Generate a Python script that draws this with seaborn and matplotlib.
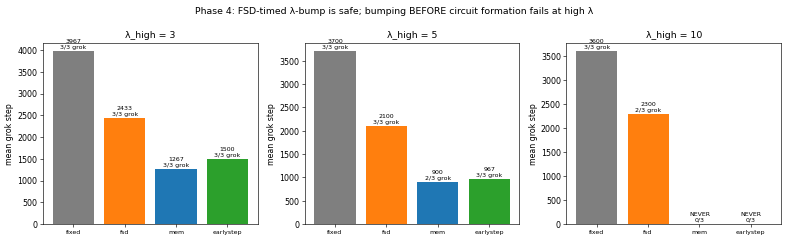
import matplotlib
matplotlib.use("Agg")
import matplotlib.pyplot as plt
import seaborn as sns

methods = ["fixed", "fsd", "mem", "earlystep"]
lam_highs = [3, 5, 10]
# mean grok step per method (None = never grokked)
mean_steps = {
    3: [3967, 2433, 1267, 1500],
    5: [3700, 2100, 900, 967],
    10: [3600, 2300, None, None],
}
n_grok = {
    3: [3, 3, 3, 3],
    5: [3, 3, 2, 3],
    10: [3, 2, 0, 0],
}
n_seeds = 3
colors = {"fixed": "tab:gray", "fsd": "tab:orange", "mem": "tab:blue", "earlystep": "tab:green"}

fig, axes = plt.subplots(1, 3, figsize=(14, 4.3), dpi=789 / 14)

for ax, lam in zip(axes, lam_highs):
    vals = [v if v is not None else 0 for v in mean_steps[lam]]
    sns.barplot(x=methods, y=vals, hue=methods, palette=colors, saturation=1,
                legend=False, dodge=False, ax=ax)
    ax.set_xlim(-0.59, 3.59)
    ax.set_title(f"λ_high = {lam}", fontsize=12)
    ax.set_ylabel("mean grok step")
    ax.tick_params(axis="x", labelsize=8)
    for i, (v, g) in enumerate(zip(mean_steps[lam], n_grok[lam])):
        if v is None:
            label = f"NEVER\n{g}/{n_seeds}"
            y = 0
        else:
            label = f"{v}\n{g}/{n_seeds} grok"
            y = v
        ax.annotate(label, (i, y), xytext=(0, 2), textcoords="offset points",
                    ha="center", va="bottom", fontsize=8)

fig.suptitle("Phase 4: FSD-timed λ-bump is safe; bumping BEFORE circuit formation fails at high λ",
             fontsize=12, y=0.97)
plt.subplots_adjust(left=0.0545, right=0.99, bottom=0.074, top=0.822, wspace=0.219)
plt.savefig("out.png", dpi=789 / 14)
